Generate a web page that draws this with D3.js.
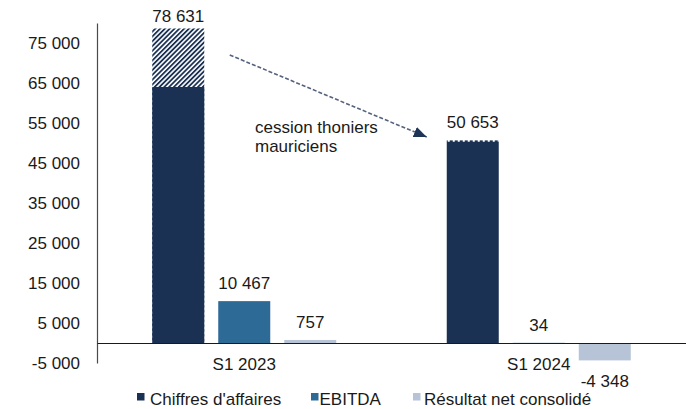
<!DOCTYPE html>
<html>
<head>
<meta charset="utf-8">
<script src="https://cdn.jsdelivr.net/npm/d3@7"></script>
<style>
  html, body { margin: 0; padding: 0; background: #ffffff; }
  svg { display: block; font-family: "Liberation Sans", Arial, sans-serif; }
</style>
</head>
<body>
<svg id="chart" width="686" height="409"></svg>
<script>
// ---- data ----
const categories = ["S1 2023", "S1 2024"];
const seriesNames = ["Chiffres d'affaires", "EBITDA", "Résultat net consolidé"];
const chiffresAffaires = [78631, 50653];
const ebitda = [10467, 34];
const resultatNet = [757, -4348];
// part of 2023 revenue excluding the sold Mauritian tuna boats (hatched part above)
const caHorsCession = [64000, null];
const tickValues = [-5000, 5000, 15000, 25000, 35000, 45000, 55000, 65000, 75000];
const annotationLines = ["cession thoniers", "mauriciens"];

// ---- style ----
const colors = ["#1b3154", "#2e6a96", "#b7c3d6"];
const textColor = "#1a1a1a";
const fontSize = 17;

const svg = d3.select("#chart");
const W = 686;
const plotLeft = 97, plotRight = 686, plotTop = 23, plotBottom = 363;

const locale = d3.formatLocale({decimal: ",", thousands: " ", grouping: [3], currency: ["", ""], minus: "-"});
const fmt = locale.format(",d");

const y = d3.scaleLinear().domain([-5000, 80000]).range([plotBottom, plotTop]);
const x0 = d3.scaleBand().domain(categories).range([plotLeft, plotRight]).padding(0);
const x1 = d3.scaleBand().domain(seriesNames).range([-92, 92]).paddingInner(14 / 66).paddingOuter(0);

const values = [chiffresAffaires, ebitda, resultatNet];
const data = [];
categories.forEach((c, ci) => {
  seriesNames.forEach((s, si) => {
    data.push({cat: c, ci, series: s, si, value: values[si][ci]});
  });
});

// hatch pattern
const defs = svg.append("defs");
const pat = defs.append("pattern")
  .attr("id", "hatch")
  .attr("patternUnits", "userSpaceOnUse")
  .attr("width", 3.4).attr("height", 3.4)
  .attr("patternTransform", "rotate(45)");
pat.append("rect").attr("width", 3.4).attr("height", 3.4).attr("fill", "#ffffff");
pat.append("rect").attr("width", 1.8).attr("height", 3.4).attr("fill", colors[0]);

const marker = defs.append("marker")
  .attr("id", "arrow")
  .attr("markerUnits", "userSpaceOnUse")
  .attr("viewBox", "0 0 12 10")
  .attr("refX", 12).attr("refY", 5)
  .attr("markerWidth", 13).attr("markerHeight", 11)
  .attr("orient", "auto");
marker.append("path").attr("d", "M0,0 L12,5 L0,10 Z").attr("fill", "#1f3558");

// y axis
const yAxis = d3.axisLeft(y)
  .tickValues(tickValues)
  .tickFormat(fmt)
  .tickSize(0)
  .tickSizeOuter(0)
  .tickPadding(17);
const gy = svg.append("g").attr("transform", `translate(${plotLeft},0)`).call(yAxis);
gy.select(".domain").attr("stroke", "#4a4a4a").attr("stroke-width", 1.2);
gy.selectAll("text").attr("font-size", fontSize).attr("fill", textColor)
  .attr("font-family", "'Liberation Sans', Arial, sans-serif");

// bars
const barG = svg.append("g");
const bw = x1.bandwidth();
const bx = d => x0(d.cat) + x0.bandwidth() / 2 + x1(d.series);

barG.selectAll("rect.bar")
  .data(data)
  .join("rect")
  .attr("class", "bar")
  .attr("x", d => bx(d))
  .attr("width", bw)
  .attr("y", d => y(Math.max(0, d.value)))
  .attr("height", d => Math.abs(y(d.value) - y(0)))
  .attr("fill", d => {
    if (d.si === 0 && caHorsCession[d.ci] != null) return "url(#hatch)";
    return colors[d.si];
  });

// solid part of 2023 revenue
const solidData = data.filter(d => d.si === 0 && caHorsCession[d.ci] != null);
barG.selectAll("rect.solid")
  .data(solidData)
  .join("rect")
  .attr("class", "solid")
  .attr("x", d => bx(d))
  .attr("width", bw)
  .attr("y", d => y(caHorsCession[d.ci]))
  .attr("height", d => y(0) - y(caHorsCession[d.ci]))
  .attr("fill", colors[0]);

// dotted top edge on 2024 revenue
const edgeData = data.filter(d => d.si === 0 && caHorsCession[d.ci] == null);
barG.selectAll("line.edge")
  .data(edgeData)
  .join("line")
  .attr("class", "edge")
  .attr("x1", d => bx(d) + 1).attr("x2", d => bx(d) + bw)
  .attr("y1", d => y(d.value) + 0.5).attr("y2", d => y(d.value) + 0.5)
  .attr("stroke", "#ffffff").attr("stroke-width", 1.6)
  .attr("stroke-dasharray", "2,3");

// x axis at zero
const xAxis = d3.axisBottom(x0).tickSize(0).tickSizeOuter(0).tickPadding(15);
const gx = svg.append("g").attr("transform", `translate(0,${y(0)})`).call(xAxis);
gx.select(".domain").attr("stroke", "#1a1a1a").attr("stroke-width", 1.2);
gx.selectAll("text").attr("font-size", fontSize).attr("fill", textColor)
  .attr("font-family", "'Liberation Sans', Arial, sans-serif");

// value labels
svg.append("g").selectAll("text")
  .data(data)
  .join("text")
  .attr("x", d => bx(d) + bw / 2)
  .attr("y", d => d.value >= 0 ? Math.max(y(d.value) - 12, 22) : y(d.value) + 27)
  .attr("text-anchor", "middle")
  .attr("font-size", fontSize)
  .attr("fill", textColor)
  .text(d => fmt(d.value));

// annotation arrow
const d23 = data.find(d => d.ci === 0 && d.si === 0);
const d24 = data.find(d => d.ci === 1 && d.si === 0);
svg.append("line")
  .attr("x1", bx(d23) + bw + 25.5).attr("y1", y(72000))
  .attr("x2", bx(d24) - 20).attr("y2", y(51500))
  .attr("stroke", "#55627d").attr("stroke-width", 1.6)
  .attr("stroke-dasharray", "4,2")
  .attr("marker-end", "url(#arrow)");

svg.append("g").selectAll("text")
  .data(annotationLines)
  .join("text")
  .attr("x", 255)
  .attr("y", (d, i) => 132.5 + i * 19)
  .attr("font-size", fontSize)
  .attr("fill", textColor)
  .text(d => d);

// legend
const legendX = [137, 311, 413];
const legendTextX = [150, 319.5, 424];
const lg = svg.append("g");
lg.selectAll("rect")
  .data(seriesNames)
  .join("rect")
  .attr("x", (d, i) => legendX[i]).attr("y", 393)
  .attr("width", 7.5).attr("height", 7.5)
  .attr("fill", (d, i) => colors[i]);
lg.selectAll("text")
  .data(seriesNames)
  .join("text")
  .attr("x", (d, i) => legendTextX[i]).attr("y", 405)
  .attr("font-size", fontSize)
  .attr("fill", textColor)
  .text(d => d);
</script>
</body>
</html>
